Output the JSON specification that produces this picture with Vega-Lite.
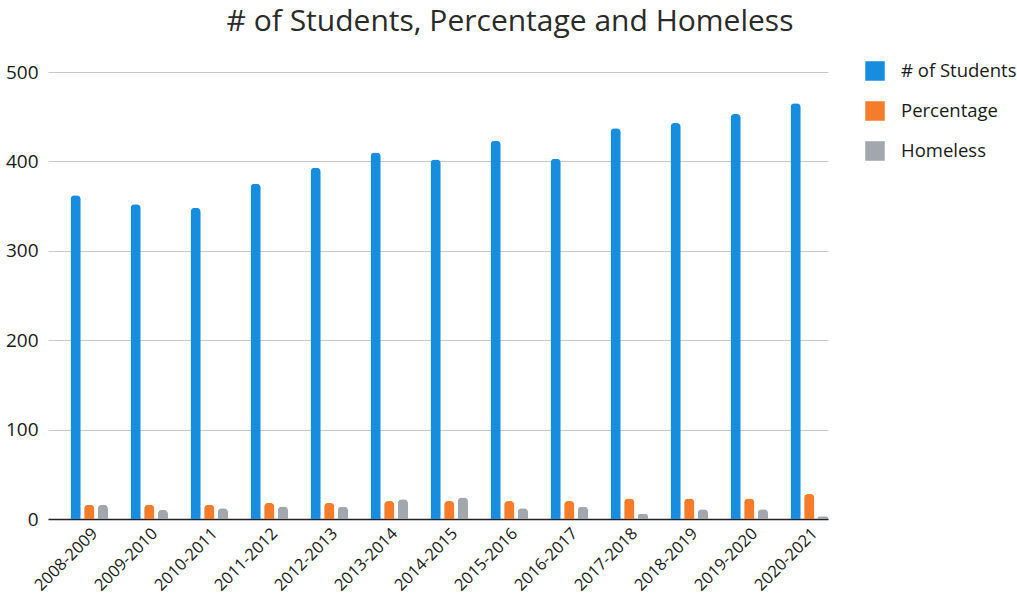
{
  "$schema": "https://vega.github.io/schema/vega-lite/v6.json",
  "width": 780,
  "height": 447,
  "autosize": {"type": "none"},
  "padding": {"left": 48, "top": 72, "right": 189, "bottom": 97},
  "background": "white",
  "config": {"view": {"stroke": null}},
  "title": {
    "text": "# of Students, Percentage and Homeless",
    "fontSize": 30,
    "font": "Open Sans",
    "fontWeight": "normal",
    "color": "#2a2a2a",
    "anchor": "middle",
    "dx": 72,
    "offset": 24
  },
  "data": {
    "values": [
      {"year": "2008-2009", "series": "# of Students", "value": 362},
      {"year": "2008-2009", "series": "Percentage", "value": 16},
      {"year": "2008-2009", "series": "Homeless", "value": 16},
      {"year": "2009-2010", "series": "# of Students", "value": 352},
      {"year": "2009-2010", "series": "Percentage", "value": 16},
      {"year": "2009-2010", "series": "Homeless", "value": 10},
      {"year": "2010-2011", "series": "# of Students", "value": 348},
      {"year": "2010-2011", "series": "Percentage", "value": 16},
      {"year": "2010-2011", "series": "Homeless", "value": 12},
      {"year": "2011-2012", "series": "# of Students", "value": 375},
      {"year": "2011-2012", "series": "Percentage", "value": 18},
      {"year": "2011-2012", "series": "Homeless", "value": 14},
      {"year": "2012-2013", "series": "# of Students", "value": 393},
      {"year": "2012-2013", "series": "Percentage", "value": 18},
      {"year": "2012-2013", "series": "Homeless", "value": 14},
      {"year": "2013-2014", "series": "# of Students", "value": 410},
      {"year": "2013-2014", "series": "Percentage", "value": 20},
      {"year": "2013-2014", "series": "Homeless", "value": 22},
      {"year": "2014-2015", "series": "# of Students", "value": 402},
      {"year": "2014-2015", "series": "Percentage", "value": 20},
      {"year": "2014-2015", "series": "Homeless", "value": 24},
      {"year": "2015-2016", "series": "# of Students", "value": 423},
      {"year": "2015-2016", "series": "Percentage", "value": 20},
      {"year": "2015-2016", "series": "Homeless", "value": 12},
      {"year": "2016-2017", "series": "# of Students", "value": 403},
      {"year": "2016-2017", "series": "Percentage", "value": 20},
      {"year": "2016-2017", "series": "Homeless", "value": 14},
      {"year": "2017-2018", "series": "# of Students", "value": 437},
      {"year": "2017-2018", "series": "Percentage", "value": 23},
      {"year": "2017-2018", "series": "Homeless", "value": 6},
      {"year": "2018-2019", "series": "# of Students", "value": 443},
      {"year": "2018-2019", "series": "Percentage", "value": 23},
      {"year": "2018-2019", "series": "Homeless", "value": 11},
      {"year": "2019-2020", "series": "# of Students", "value": 453},
      {"year": "2019-2020", "series": "Percentage", "value": 23},
      {"year": "2019-2020", "series": "Homeless", "value": 11},
      {"year": "2020-2021", "series": "# of Students", "value": 465},
      {"year": "2020-2021", "series": "Percentage", "value": 28},
      {"year": "2020-2021", "series": "Homeless", "value": 3}
    ]
  },
  "mark": {"type": "bar", "cornerRadiusTopLeft": 4, "cornerRadiusTopRight": 4},
  "encoding": {
    "x": {
      "field": "year",
      "type": "nominal",
      "sort": null,
      "title": null,
      "scale": {"paddingInner": 0.375, "paddingOuter": 0.1875, "align": 1},
      "axis": {
        "labelAngle": -45,
        "labelFontSize": 16.5,
        "labelFont": "Open Sans",
        "labelColor": "#1a1a1a",
        "ticks": false,
        "domainColor": "#222222",
        "domainWidth": 1.5,
        "labelPadding": 6
      }
    },
    "xOffset": {
      "field": "series",
      "type": "nominal",
      "sort": ["# of Students", "Percentage", "Homeless"],
      "scale": {"paddingInner": 0.25}
    },
    "y": {
      "field": "value",
      "type": "quantitative",
      "title": null,
      "scale": {"domain": [0, 500]},
      "axis": {
        "values": [0, 100, 200, 300, 400, 500],
        "labelFontSize": 19,
        "labelFont": "Open Sans",
        "labelColor": "#1a1a1a",
        "ticks": false,
        "domain": false,
        "gridColor": "#c8c8c8",
        "labelPadding": 10
      }
    },
    "color": {
      "field": "series",
      "type": "nominal",
      "sort": ["# of Students", "Percentage", "Homeless"],
      "scale": {
        "domain": ["# of Students", "Percentage", "Homeless"],
        "range": ["#178ddf", "#f47c2a", "#a2a7ad"]
      },
      "legend": {
        "title": null,
        "orient": "none",
        "legendX": 817,
        "legendY": -11,
        "symbolType": "square",
        "symbolSize": 380,
        "symbolStrokeWidth": 0,
        "labelFontSize": 18.5,
        "labelFont": "Open Sans",
        "labelColor": "#1a1a1a",
        "labelLimit": 200,
        "rowPadding": 20,
        "labelOffset": 16
      }
    }
  }
}
